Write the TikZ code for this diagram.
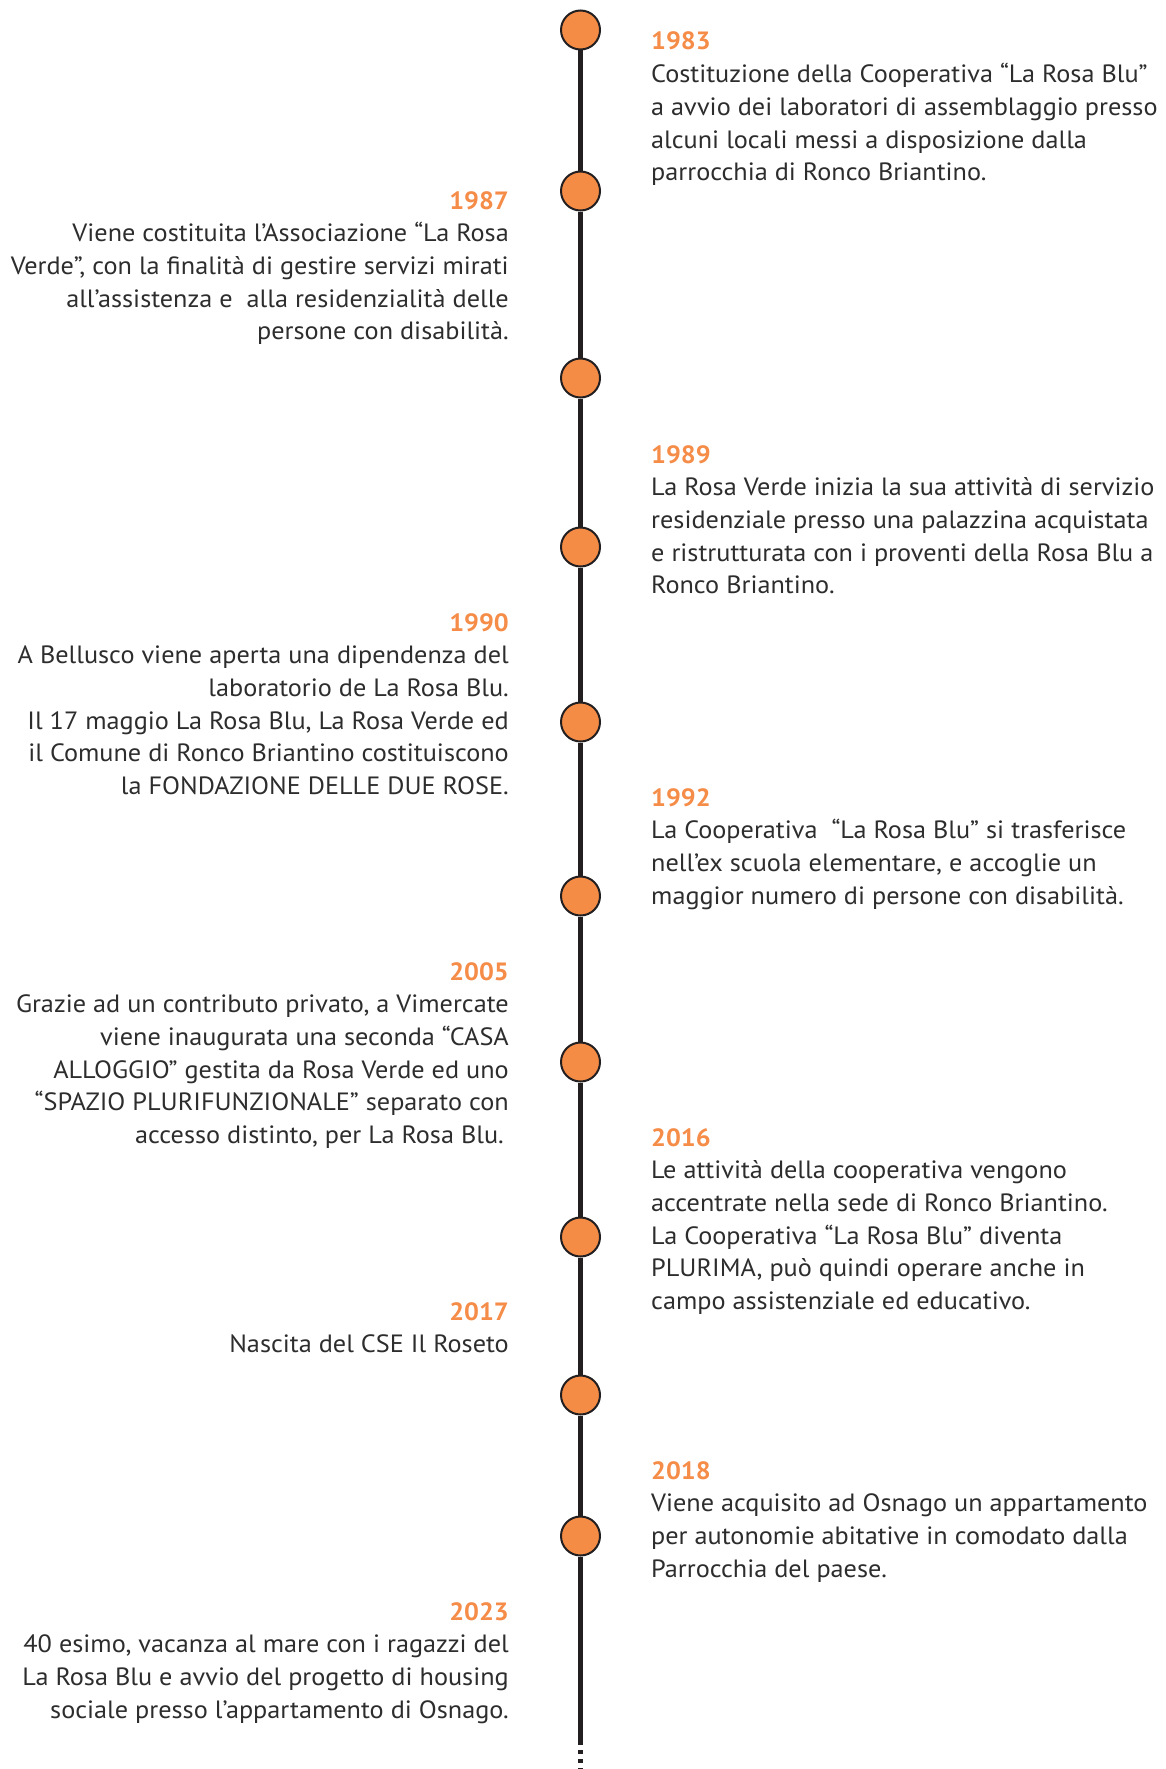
\documentclass[tikz,border=0pt]{standalone}
\usepackage{fontspec}
\setmainfont{PT Sans}[FakeStretch=1.05]
\definecolor{dot}{RGB}{245,140,70}
\definecolor{yr}{RGB}{245,140,72}
\definecolor{ink}{RGB}{45,45,45}
\definecolor{axis}{RGB}{35,31,32}
\newcommand{\yr}[1]{{\bfseries\color{yr}#1}}
\newcommand{\tsp}{\hspace*{5pt}}
\tikzset{
  evt/.style={circle,draw=axis,line width=2pt,fill=dot,minimum size=39pt,inner sep=0pt},
  axisline/.style={draw=axis,line width=4.6pt},
  rtext/.style={anchor=base west,inner sep=0pt,text=ink},
  ltext/.style={anchor=base east,inner sep=0pt,text=ink},
}
\newcommand{\R}[1]{\parbox[t]{515pt}{\fontsize{25}{32.7}\selectfont\raggedright\leavevmode #1}}
\newcommand{\Lf}[1]{\parbox[t]{505pt}{\fontsize{25}{32.7}\selectfont\raggedleft\leavevmode #1}}
\begin{document}
\begin{tikzpicture}[x=1pt,y=-1pt]
\fill[white] (0,0) rectangle (1166,1769);
\useasboundingbox (0,0) rectangle (1166,1769);
% circles
\node[evt] (c1) at (580.5,30) {};
\node[evt] (c2) at (580.5,191) {};
\node[evt] (c3) at (580.5,378) {};
\node[evt] (c4) at (580.5,547) {};
\node[evt] (c5) at (580.5,722) {};
\node[evt] (c6) at (580.5,896) {};
\node[evt] (c7) at (580.5,1062) {};
\node[evt] (c8) at (580.5,1237) {};
\node[evt] (c9) at (580.5,1395) {};
\node[evt] (c10) at (580.5,1536) {};
\coordinate (solidend) at (580.5,1741);
\coordinate (axisend) at (580.5,1769);
% axis segments
\foreach \a/\b in {c1/c2,c2/c3,c3/c4,c4/c5,c5/c6,c6/c7,c7/c8,c8/c9,c9/c10}
  \draw[axisline] (\a.south) -- (\b.north);
\draw[axisline] (c10.south) -- (solidend);
\draw[axisline,dash pattern=on 4pt off 5pt] (solidend) -- (axisend);
% right texts
\node[rtext] (t1983) at (651,50) {\R{\yr{1983}\\
Costituzione della Cooperativa “La Rosa Blu”\\
a avvio dei laboratori di assemblaggio presso\\
alcuni locali messi a disposizione dalla\\
parrocchia di Ronco Briantino.}};
\node[rtext] (t1989) at (651,463) {\R{\yr{1989}\\
La Rosa Verde inizia la sua attività di servizio\\
residenziale presso una palazzina acquistata\\
e ristrutturata con i proventi della Rosa Blu a\\
Ronco Briantino.}};
\node[rtext] (t1992) at (651,806) {\R{\yr{1992}\\
La Cooperativa\ \ “La Rosa Blu” si trasferisce\\
nell’ex scuola elementare, e accoglie un\\
maggior numero di persone con disabilità.}};
\node[rtext] (t2016) at (651,1146) {\R{\yr{2016}\\
Le attività della cooperativa vengono\\
accentrate nella sede di Ronco Briantino.\\
La Cooperativa “La Rosa Blu” diventa\\
PLURIMA, può quindi operare anche in\\
campo assistenziale ed educativo.}};
\node[rtext] (t2018) at (651,1479) {\R{\yr{2018}\\
Viene acquisito ad Osnago un appartamento\\
per autonomie abitative in comodato dalla\\
Parrocchia del paese.}};
% left texts
\node[ltext] (t1987) at (509,209) {\Lf{\yr{1987}\\
Viene costituita l’Associazione “La Rosa\\
Verde”, con la finalità di gestire servizi mirati\tsp\\
all’assistenza e\ \ alla residenzialità delle\tsp\\
persone con disabilità.}};
\node[ltext] (t1990) at (509,631) {\Lf{\yr{1990}\\
A Bellusco viene aperta una dipendenza del\\
laboratorio de La Rosa Blu.\\
Il 17 maggio La Rosa Blu, La Rosa Verde ed\tsp\\
il Comune di Ronco Briantino costituiscono\\
la FONDAZIONE DELLE DUE ROSE.}};
\node[ltext] (t2005) at (509,980) {\Lf{\yr{2005}\\
Grazie ad un contributo privato, a Vimercate\tsp\\
viene inaugurata una seconda “CASA\\
ALLOGGIO” gestita da Rosa Verde ed uno\tsp\\
“SPAZIO PLURIFUNZIONALE” separato con\tsp\\
accesso distinto, per La Rosa Blu.\tsp}};
\node[ltext] (t2017) at (509,1320) {\Lf{\yr{2017}\\
Nascita del CSE Il Roseto}};
\node[ltext] (t2023) at (509,1620) {\Lf{\yr{2023}\\
40 esimo, vacanza al mare con i ragazzi del\\
La Rosa Blu e avvio del progetto di housing\\
sociale presso l’appartamento di Osnago.}};
\end{tikzpicture}
\end{document}
